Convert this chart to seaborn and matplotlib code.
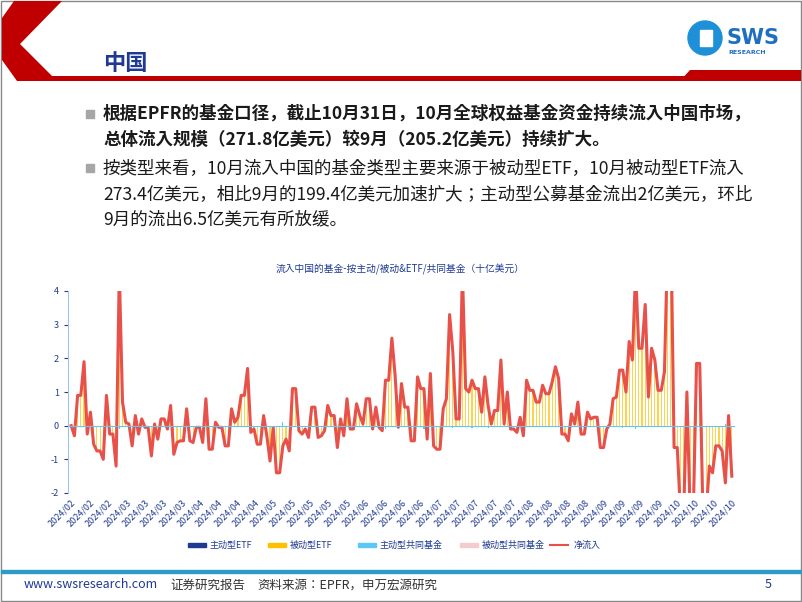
import numpy as np
import pandas as pd
import matplotlib
matplotlib.use("Agg")
import matplotlib.pyplot as plt
from matplotlib import font_manager as fm
from matplotlib.patches import Polygon, Rectangle, Circle
import seaborn as sns

cjk_files = [f for f in fm.findSystemFonts()
             if "CJK" in f and "Sans" in f and "Serif" not in f and "Mono" not in f]
reg_name, bold_file = None, None
for f in sorted(cjk_files):
    try:
        fm.fontManager.addfont(f)
    except Exception:
        continue
    low = f.lower()
    nm = fm.FontProperties(fname=f).get_name()
    if "bold" in low and bold_file is None:
        bold_file = f
    if ("regular" in low or "medium" in low) and (reg_name is None or "SC" in nm):
        reg_name = nm
if reg_name is None:
    reg_name = "Noto Sans CJK SC"
plt.rcParams["font.family"] = [reg_name, "Noto Sans CJK SC", "DejaVu Sans"]
bold_fp = fm.FontProperties(fname=bold_file) if bold_file else fm.FontProperties(family=reg_name, weight="bold")

net_flow = [0, -0.3, 0.9, 0.9, 1.9, -0.25, 0.4, -0.55, -0.75, -0.75, -1.0, 0.9, -0.25, -0.25, -1.2, 4.6,
            0.7, 0.1, 0.05, -0.6, 0.3, -0.25, 0.2, -0.05, -0.05, -0.9, 0.05, -0.4, 0.2, 0.2, -0.1, 0.6,
            -0.85, -0.5, -0.45, -0.45, 0.5, -0.45, -0.5, -0.05, -0.05, -0.5, 0.8, -0.7, -0.7, 0.1, -0.05,
            -0.05, -0.6, -0.6, 0.5, 0.1, 0.25, 0.9, 0.9, 1.7, -0.2, -0.1, -0.55, -0.55, 0.3, -0.3, -1.05,
            -0.05, -1.4, -1.4, -0.6, -0.4, -0.75, 1.1, 1.1, -0.15, -0.25, -0.1, -0.35, 0.55, 0.55, -0.35,
            -0.3, -0.15, 0.6, 0.3, 0.3, -0.65, 0.2, -0.3, 0.8, -0.1, -0.1, 0.65, 0.3, 0.05, 0.8, 0.8, -0.1,
            0.55, -0.05, -0.15, 1.35, 1.35, 2.6, 1.5, -0.05, 1.25, 0.55, 0.55, -0.45, -0.45, 1.45, 1.1,
            1.1, -0.4, 1.55, -0.6, -0.7, -0.7, 0.5, 0.8, 3.3, 2.2, 0.2, 0.2, 4.6, 1.1, 1.0, 1.35, 1.1, 1.1,
            0.4, 1.45, 0.6, 0.05, 0.45, 0.45, 1.95, 0.05, 1.0, -0.1, -0.1, -0.2, 0.25, -0.3, 1.35, 1.05,
            1.05, 0.7, 0.7, 1.2, 0.95, 0.95, 1.3, 1.75, 1.4, -0.25, -0.25, -0.45, 0.35, 0.05, 0.7, -0.25,
            -0.25, 0.4, 0.2, 0.25, 0.25, -0.65, -0.65, -0.1, 0.05, 0.8, 0.85, 1.65, 1.65, 1.0, 2.5, 1.95,
            4.6, 2.3, 2.3, 3.6, 0.85, 2.3, 1.95, 1.05, 1.05, 1.6, 5.5, 6.0, -0.65, -0.65, -2.6, -2.6, 1.0,
            -2.6, -2.6, 1.85, 1.85, -2.6, -2.6, -1.2, -1.4, -0.6, -0.6, -0.75, -1.7, 0.3, -1.5]
passive_etf = list(net_flow)
active_mf_idx = [2, 15, 40, 66, 98, 103, 110, 119, 125, 130, 140, 160, 172, 176, 180, 185, 196, 204]
active_mf_val = [-0.05, -0.1, -0.05, 0.1, -0.1, -0.05, -0.1, -0.08, -0.06, -0.06, -0.05, -0.05,
                 -0.08, -0.1, -0.05, -0.05, 0.05, 0.05]
tick_labels = ["2024/02"] * 3 + ["2024/03"] * 4 + ["2024/04"] * 4 + ["2024/05"] * 5 + \
              ["2024/06"] * 4 + ["2024/07"] * 5 + ["2024/08"] * 4 + ["2024/09"] * 4 + ["2024/10"] * 4
series_names = ["主动型ETF", "被动型ETF", "主动型共同基金", "被动型共同基金", "净流入"]
series_colors = ["#1F3A93", "#FFC000", "#5BC8F5", "#F4CCCC", "#E8504A"]

n = len(net_flow)
active_mf = np.zeros(n)
active_mf[active_mf_idx] = active_mf_val
df = pd.DataFrame({"x": np.arange(n), "net": net_flow, "passive": np.clip(passive_etf, -2, 4),
                   "amf": active_mf})

fig = plt.figure(figsize=(8.02, 6.02), dpi=100)
W, H = 802, 602
bg = fig.add_axes([0, 0, 1, 1])
bg.set_xlim(0, W); bg.set_ylim(H, 0); bg.axis("off")
bg.add_patch(Rectangle((1, 1), W - 2, H - 2, fill=False, ec="#888888", lw=1))
red = "#C00000"
bg.add_patch(Polygon([(14, 1), (62, 1), (20, 44), (52, 76), (690, 76), (690, 81), (17, 81),
                      (2, 60), (2, 18)], color=red, lw=0))
bg.add_patch(Polygon([(680, 81), (690, 70), (801, 70), (801, 81)], color=red, lw=0))
tfp = bold_fp.copy(); tfp.set_size(16)
bg.text(103, 63, "中国", fontproperties=tfp, color="#1F3A93", va="center")
bg.add_patch(Circle((705, 38), 17, color="#1E90D8"))
bg.add_patch(Rectangle((700, 30), 12, 16, color="white"))
bg.text(726, 38, "SWS", fontsize=15, fontweight="bold", family="DejaVu Sans", color="#1E6FC0", va="center")
bg.text(728, 53, "RESEARCH", fontsize=4.5, fontweight="bold", family="DejaVu Sans", color="#1E6FC0", va="center")
bg.add_patch(Rectangle((86, 110), 8, 8, color="#A6A6A6"))
bg.add_patch(Rectangle((86, 164), 8, 8, color="#A6A6A6"))
fs = 12.6
bfp = bold_fp.copy(); bfp.set_size(fs)
bg.text(103, 114, "根据EPFR的基金口径，截止10月31日，10月全球权益基金资金持续流入中国市场，",
        fontproperties=bfp, color="#1A1A1A", va="center")
bg.text(103, 140, "总体流入规模（271.8亿美元）较9月（205.2亿美元）持续扩大。",
        fontproperties=bfp, color="#1A1A1A", va="center")
bg.text(103, 168, "按类型来看，10月流入中国的基金类型主要来源于被动型ETF，10月被动型ETF流入",
        fontsize=fs, color="#1A1A1A", va="center")
bg.text(103, 194, "273.4亿美元，相比9月的199.4亿美元加速扩大；主动型公募基金流出2亿美元，环比",
        fontsize=fs, color="#1A1A1A", va="center")
bg.text(103, 219, "9月的流出6.5亿美元有所放缓。", fontsize=fs, color="#1A1A1A", va="center")
bg.text(400, 269, "流入中国的基金-按主动/被动&ETF/共同基金（十亿美元）", fontsize=7,
        color="#1F3A93", ha="center", va="center")
bg.add_patch(Rectangle((1, 570), W - 2, 3, color="#2E9BC6"))
bg.text(24, 585, "www.swsresearch.com", fontsize=9, color="#1F3A93", va="center")
bg.text(170, 585, "证券研究报告", fontsize=9, color="#333333", va="center")
bg.text(257, 585, "资料来源：EPFR，申万宏源研究", fontsize=9, color="#333333", va="center")
bg.text(765, 585, "5", fontsize=9, color="#1F3A93", va="center")

ax = fig.add_axes([68 / W, 1 - 493 / H, (735 - 68) / W, (493 - 291) / H])
sns.barplot(data=df, x="x", y="passive", native_scale=True, color="#FFD24D",
            width=0.35, ax=ax, saturation=1)
sns.barplot(data=df, x="x", y="amf", native_scale=True, color=series_colors[2],
            width=0.35, ax=ax, saturation=1)
sns.lineplot(data=df, x="x", y="net", color=series_colors[4], lw=2.2, ax=ax)
ax.axhline(0, color="#5BC8F5", lw=0.8)
ax.set_ylim(-2, 4)
ax.set_xlim(-1, n)
ax.set_yticks([-2, -1, 0, 1, 2, 3, 4])
ax.set_yticklabels(["-2", "-1", "0", "1", "2", "3", "4"])
tpos = np.linspace(0, n - 1, len(tick_labels))
ax.set_xticks(tpos)
ax.set_xticklabels(tick_labels, rotation=45, ha="right", rotation_mode="anchor")
ax.tick_params(labelsize=6.5, colors="#1F3A93", length=3)
ax.tick_params(axis="x", length=0)
ax.set_xlabel(""); ax.set_ylabel("")
for s in ["top", "right", "bottom"]:
    ax.spines[s].set_visible(False)
ax.spines["left"].set_color("#9DC3E6")
ax.patch.set_alpha(0)

lx = [188, 268, 358, 460, 552]
for x0, name, c in zip(lx, series_names, series_colors):
    if name == "净流入":
        bg.plot([x0 - 2, x0 + 16], [545, 545], color=c, lw=1.5)
    else:
        bg.add_patch(Rectangle((x0, 543), 18, 4, color=c))
    bg.text(x0 + 22, 545, name, fontsize=6.5, color="#1F3A93", va="center")

fig.savefig("out.png", dpi=100)
